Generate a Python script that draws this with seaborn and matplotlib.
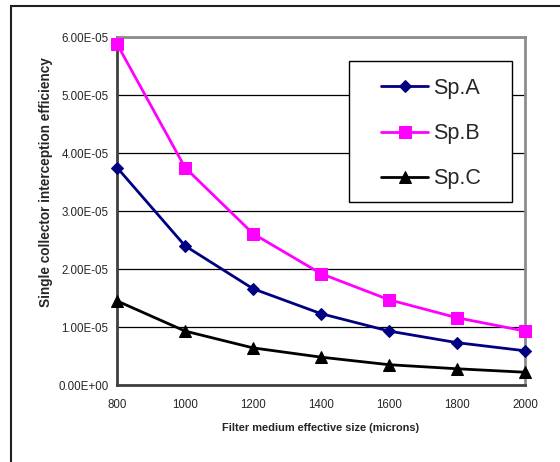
import pandas as pd
import seaborn as sns
import matplotlib.pyplot as plt
from matplotlib.patches import Rectangle

# dati
size = [800, 1000, 1200, 1400, 1600, 1800, 2000]
sp_a = [3.75e-5, 2.40e-5, 1.66e-5, 1.23e-5, 0.93e-5, 0.73e-5, 0.59e-5]
sp_b = [5.88e-5, 3.75e-5, 2.61e-5, 1.92e-5, 1.47e-5, 1.16e-5, 0.93e-5]
sp_c = [1.45e-5, 0.93e-5, 0.64e-5, 0.48e-5, 0.35e-5, 0.28e-5, 0.22e-5]
series = ['Sp.A', 'Sp.B', 'Sp.C']
yticks = [0, 1e-5, 2e-5, 3e-5, 4e-5, 5e-5, 6e-5]

sns.set_style('white')
plt.rcParams['font.family'] = ['Liberation Sans', 'DejaVu Sans']

df = pd.DataFrame({'size': size * 3,
                   'value': sp_a + sp_b + sp_c,
                   'serie': [s for s in series for _ in size]})

fig = plt.figure(figsize=(5.6, 4.62), dpi=100)
ax = fig.add_axes([117 / 560, 1 - 385 / 462, 408 / 560, 348 / 462])

colori = {'Sp.A': '#000080', 'Sp.B': '#ff00ff', 'Sp.C': '#000000'}
marcatori = {'Sp.A': 'D', 'Sp.B': 's', 'Sp.C': '^'}
dimensioni = {'Sp.A': 6.5, 'Sp.B': 8, 'Sp.C': 8}

for s in series:
    d = df[df['serie'] == s]
    sns.lineplot(data=d, x='size', y='value', color=colori[s], marker=marcatori[s],
                 markersize=dimensioni[s], markeredgecolor=colori[s], linewidth=2,
                 label=s, ax=ax, clip_on=False, zorder=3)

ax.set_xlim(800, 2000)
ax.set_ylim(0, 6e-5)
ax.set_xticks(size)
ax.set_yticks(yticks)
ax.set_yticklabels([f"{v:.2E}" for v in yticks])
ax.tick_params(axis='both', labelsize=8.3, direction='out', length=4, width=1, color='#404040', pad=2)
ax.tick_params(axis='x', pad=6)
ax.yaxis.grid(True, color='black', linewidth=0.9)
ax.set_axisbelow(True)

for lato in ['left', 'bottom']:
    ax.spines[lato].set_color('#404040')
    ax.spines[lato].set_linewidth(2)
for lato in ['top', 'right']:
    ax.spines[lato].set_color('#8c8c8c')
    ax.spines[lato].set_linewidth(2)

ax.set_xlabel('Filter medium effective size (microns)', fontsize=7.9, fontweight='bold', labelpad=9)
ax.set_ylabel('Single collector interception efficiency', fontsize=9.8, fontweight='bold')
ax.yaxis.set_label_coords(-0.158, 0.583)

# legenda senza cornice, la cornice la disegno a parte
leg = ax.legend(loc='upper left', bbox_to_anchor=(381 / 560, 1 - 78 / 462), bbox_transform=fig.transFigure,
                fontsize=15.5, frameon=False, handlelength=2.2, labelspacing=1.12,
                borderpad=0, handletextpad=0.2, borderaxespad=0)
leg.set_zorder(6)
cornice = Rectangle((349 / 560, 1 - 202 / 462), 163 / 560, 141 / 462, transform=fig.transFigure,
                    facecolor='white', edgecolor='black', linewidth=1, zorder=5, clip_on=False)
ax.add_patch(cornice)

# cornice esterna del grafico (tagliata a destra e in basso)
fig.patches.append(Rectangle((11 / 560, -0.1), 1.0, 1.1 - 6 / 462, transform=fig.transFigure,
                             fill=False, edgecolor='#202020', linewidth=1.5))

plt.savefig('out.png', dpi=100)
plt.close()
